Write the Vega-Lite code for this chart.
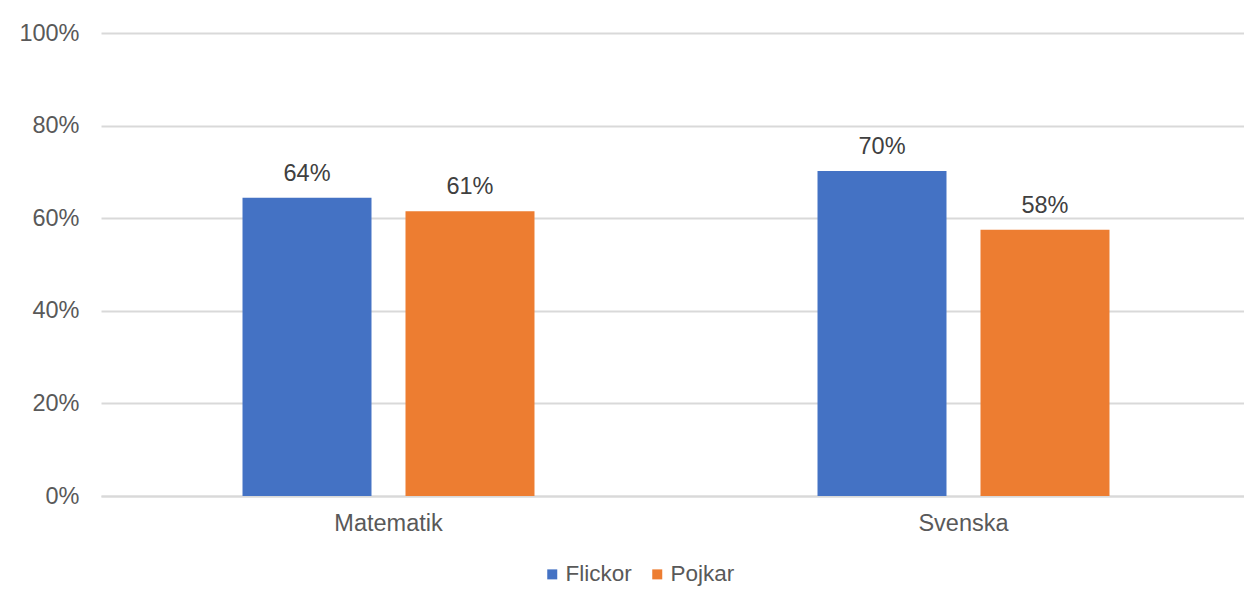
{
  "$schema": "https://vega.github.io/schema/vega-lite/v6.json",
  "autosize": {"type": "none"},
  "padding": {"left": 101, "top": 33, "right": 0, "bottom": 95},
  "width": 1143,
  "height": 463,
  "background": "white",
  "config": {
    "view": {"stroke": null},
    "font": "Liberation Sans"
  },
  "data": {
    "values": [
      {"amne": "Matematik", "kon": "Flickor", "andel": 0.644, "etikett": "64%"},
      {"amne": "Matematik", "kon": "Pojkar", "andel": 0.615, "etikett": "61%"},
      {"amne": "Svenska", "kon": "Flickor", "andel": 0.702, "etikett": "70%"},
      {"amne": "Svenska", "kon": "Pojkar", "andel": 0.575, "etikett": "58%"}
    ]
  },
  "encoding": {
    "x": {
      "field": "amne", "type": "nominal", "sort": ["Matematik", "Svenska"],
      "scale": {"range": [0, 1150], "paddingInner": 0.4922, "paddingOuter": 0.2461},
      "axis": {
        "title": null, "labelAngle": 0, "labelFontSize": 23.5, "labelColor": "#595959",
        "labelPadding": 15, "ticks": false, "domainColor": "#d9d9d9", "domainWidth": 2
      }
    },
    "xOffset": {
      "field": "kon", "type": "nominal", "sort": ["Flickor", "Pojkar"],
      "scale": {"paddingInner": 0.2086, "paddingOuter": 0}
    },
    "y": {
      "field": "andel", "type": "quantitative",
      "scale": {"domain": [0, 1]},
      "axis": {
        "title": null, "format": ".0%", "values": [0, 0.2, 0.4, 0.6, 0.8, 1],
        "labelOverlap": false, "labelFontSize": 23.5, "labelColor": "#595959", "labelPadding": 22,
        "ticks": false, "domain": false, "gridColor": "#d9d9d9", "gridWidth": 2
      }
    }
  },
  "layer": [
    {
      "mark": {"type": "bar"},
      "encoding": {
        "color": {
          "field": "kon", "type": "nominal", "sort": ["Flickor", "Pojkar"],
          "scale": {"domain": ["Flickor", "Pojkar"], "range": ["#4472c4", "#ed7d31"]},
          "legend": {
            "title": null, "orient": "none", "direction": "horizontal",
            "legendX": 440, "legendY": 530,
            "symbolType": "square", "symbolSize": 100, "symbolStrokeWidth": 0,
            "labelFontSize": 22.5, "labelColor": "#595959", "columnPadding": 14, "labelOffset": 2
          }
        }
      }
    },
    {
      "mark": {"type": "text", "baseline": "alphabetic", "dy": -17, "fontSize": 23.5, "color": "#404040"},
      "encoding": {"text": {"field": "etikett"}}
    }
  ]
}
